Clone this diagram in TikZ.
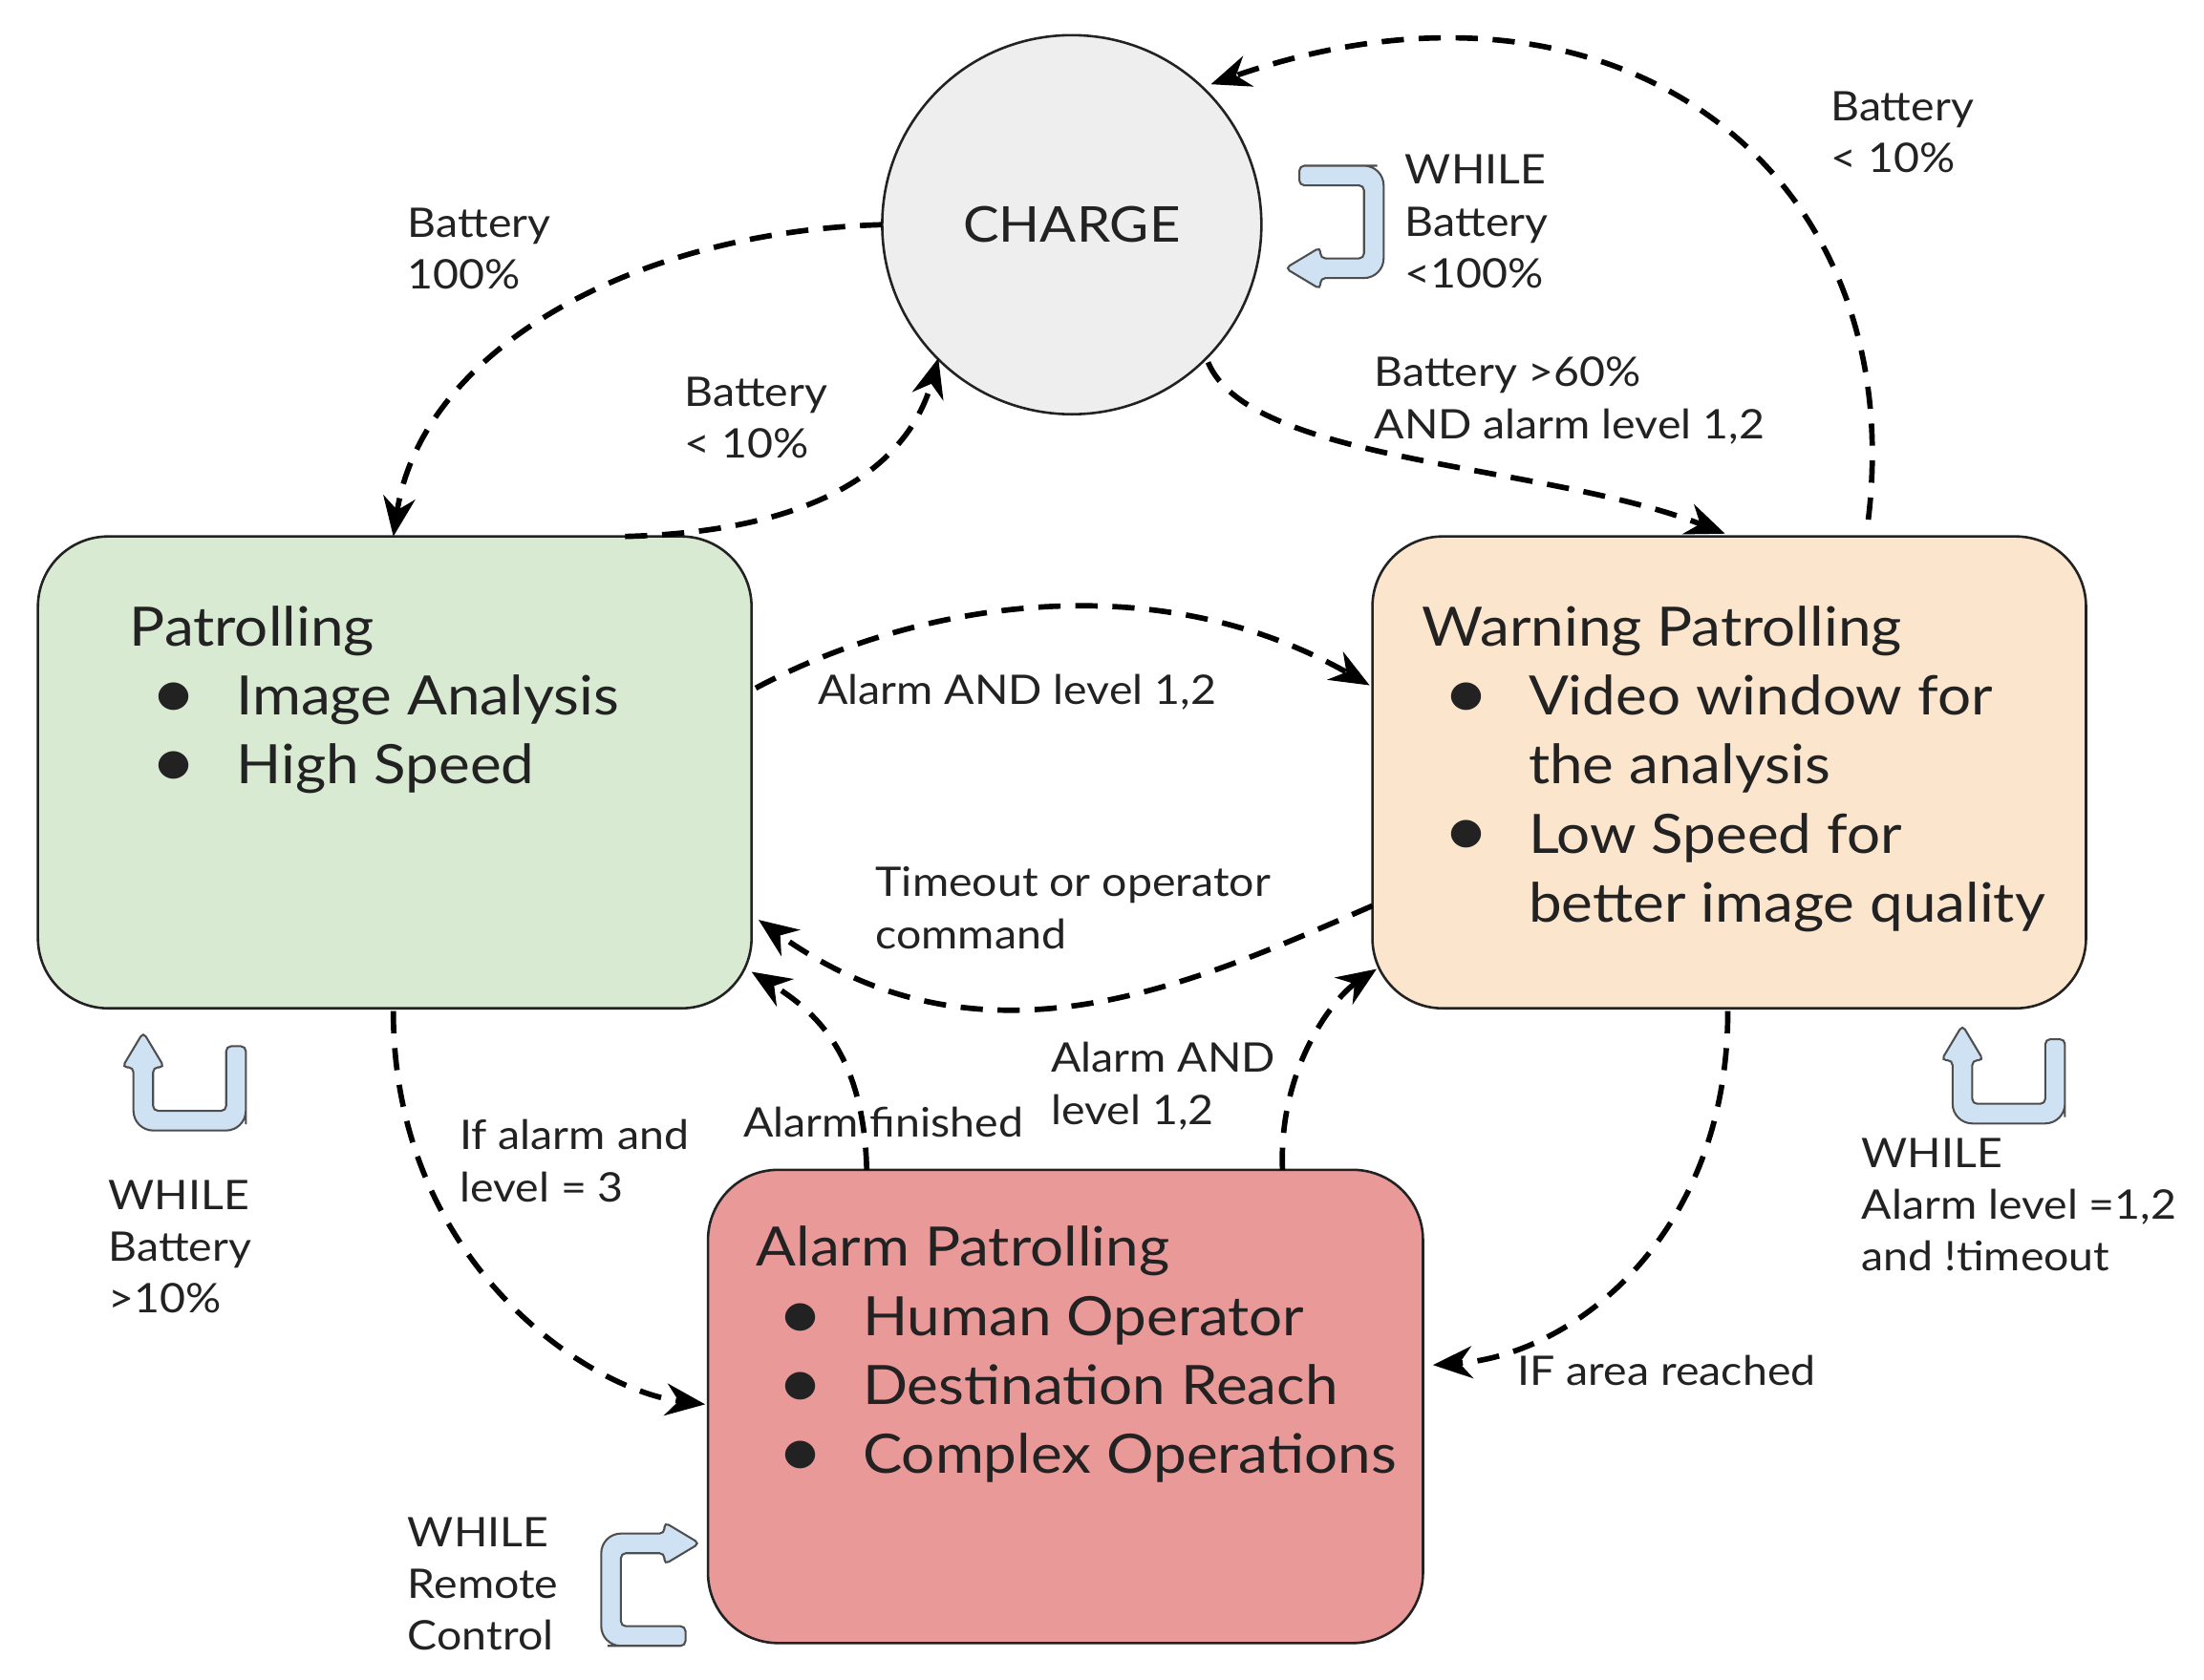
\documentclass[tikz,border=0pt]{standalone}
\usepackage{fontspec}
\setmainfont{Lato}[FakeStretch=1.09]
\usetikzlibrary{arrows.meta}
\definecolor{txt}{HTML}{222222}
\definecolor{pg}{HTML}{D9EAD3}
\definecolor{wo}{HTML}{FCE5CD}
\definecolor{ar}{HTML}{EA9999}
\definecolor{ch}{HTML}{EEEEEE}
\definecolor{ic}{HTML}{CFE2F3}
\newcommand{\bul}{\smash{\fontsize{30}{28}\selectfont\raisebox{-0.1ex}{\textbullet}}}
\begin{document}
\begin{tikzpicture}[x=0.02cm,y=-0.02cm,
  box/.style={draw=txt,line width=1pt,rounded corners=1cm,inner sep=0},
  con/.style={draw=black,line width=2.2pt,dash pattern=on 9pt off 6pt,-{Stealth[length=16pt,width=13pt]}},
  lab/.style={anchor=north west,inner sep=0,align=left,text=txt,font=\fontsize{16.5}{21}\selectfont},
  btxt/.style={anchor=north west,inner sep=0,text=txt,font=\fontsize{22}{28}\selectfont},
  uturn/.pic={\draw[draw=txt!80,line width=0.8pt,fill=ic,rounded corners=2pt] (66,10) -- (80,10) -- (80,62) [rounded corners=8pt] -- (80,70) -- (0,70) [rounded corners=2pt]-- (0,25) -- (-8,25) -- (7,0) -- (22,25) -- (14,25) -- (14,56) -- (66,56) -- cycle;}]
\useasboundingbox (0,0) rectangle (1569,1196);
\node[circle,draw=txt,line width=1pt,fill=ch,minimum size=5.4cm,inner sep=0,text=txt,font=\fontsize{20}{24}\selectfont] (charge) at (763,160) {CHARGE};
\path[box,fill=pg] (27,382) rectangle (535,718);
\path[box,fill=wo] (977,382) rectangle (1485,718);
\path[box,fill=ar] (504,833) rectangle (1013,1170);
\coordinate (p1) at (628,160); \coordinate (p1e) at (280,382);
\coordinate (p2) at (445,382); \coordinate (p2e) at (668,255);
\coordinate (p3) at (860,258); \coordinate (p3e) at (1228,380);
\coordinate (p4) at (1330,370); \coordinate (p4e) at (862,60);
\coordinate (p5) at (538,490); \coordinate (p5e) at (975,488);
\coordinate (p6) at (977,645); \coordinate (p6e) at (540,655);
\coordinate (p7) at (617,833); \coordinate (p7e) at (535,692);
\coordinate (p8) at (913,833); \coordinate (p8e) at (980,690);
\coordinate (p9) at (280,720); \coordinate (p9e) at (502,1000);
\coordinate (p10) at (1230,720); \coordinate (p10e) at (1020,972);
\draw[con] (p1) .. controls (450,165) and (300,250) .. (p1e);
\draw[con] (p2) .. controls (600,378) and (650,320) .. (p2e);
\draw[con] (p3) .. controls (890,330) and (1100,330) .. (p3e);
\draw[con] (p4) .. controls (1360,120) and (1150,-40) .. (p4e);
\draw[con] (p5) .. controls (650,430) and (820,400) .. (p5e);
\draw[con] (p6) .. controls (850,700) and (700,770) .. (p6e);
\draw[con] (p7) .. controls (615,750) and (580,720) .. (p7e);
\draw[con] (p8) .. controls (910,760) and (950,710) .. (p8e);
\draw[con] (p9) .. controls (280,900) and (420,990) .. (p9e);
\draw[con] (p10) .. controls (1230,880) and (1120,965) .. (p10e);
\pic at (95,735) {uturn};
\pic at (1390,730) {uturn};
\pic[rotate=90] at (915,198) {uturn};
\pic[rotate=-90] at (498,1092) {uturn};
\node[btxt] (pt) at (92,425) {\begin{tabular}{@{\hspace{0.3cm}}c@{\hspace{0.55cm}}l@{}}\multicolumn{2}{@{}l}{Patrolling}\\ \bul & Image Analysis\\ \bul & High Speed\end{tabular}};
\node[btxt] (wt) at (1012,425) {\begin{tabular}{@{\hspace{0.3cm}}c@{\hspace{0.55cm}}l@{}}\multicolumn{2}{@{}l}{Warning Patrolling}\\ \bul & Video window for\\ & the analysis\\ \bul & Low Speed for\\ & better image quality\end{tabular}};
\node[btxt] (at) at (538,867) {\begin{tabular}{@{\hspace{0.3cm}}c@{\hspace{0.55cm}}l@{}}\multicolumn{2}{@{}l}{Alarm Patrolling}\\ \bul & Human Operator\\ \bul & Destination Reach\\ \bul & Complex Operations\end{tabular}};
\node[lab] (l1) at (290,148) {Battery\\100\%};
\node[lab] (l2) at (487,268) {Battery\\< 10\%};
\node[lab] (l3) at (1000,110) {WHILE\\Battery\\<100\%};
\node[lab] (l4) at (1303,65) {Battery\\< 10\%};
\node[lab] (l5) at (978,254) {Battery >60\%\\AND alarm level 1,2};
\node[lab] (l6) at (582,480) {Alarm AND level 1,2};
\node[lab] (l7) at (623,617) {Timeout or operator\\command};
\node[lab] (l8) at (748,742) {Alarm AND\\level 1,2};
\node[lab] (l9) at (529,788) {Alarm finished};
\node[lab] (l10) at (327,797) {If alarm and\\level = 3};
\node[lab] (l11) at (77,840) {WHILE\\Battery\\>10\%};
\node[lab] (l12) at (1325,810) {WHILE\\Alarm level =1,2\\and !timeout};
\node[lab] (l13) at (1080,965) {IF area reached};
\node[lab] (l14) at (290,1080) {WHILE\\Remote\\Control};
\end{tikzpicture}
\end{document}
